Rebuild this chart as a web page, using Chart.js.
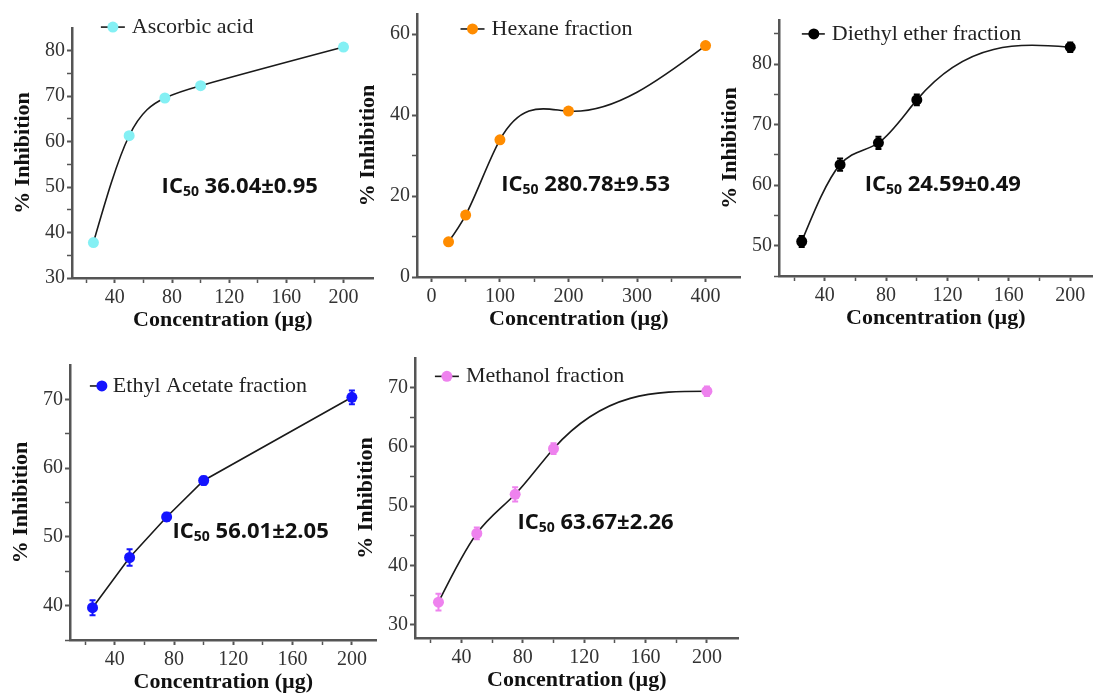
<!DOCTYPE html>
<html>
<head>
<meta charset="utf-8">
<script src="https://cdn.jsdelivr.net/npm/chart.js@4.4.0/dist/chart.umd.min.js"></script>
<style>
  html, body { margin: 0; padding: 0; background: #fff; }
  body { position: relative; width: 1094px; height: 700px; overflow: hidden; }
  canvas { position: absolute; }
</style>
</head>
<body>
<canvas id="chart-ascorbic"></canvas>
<canvas id="chart-hexane"></canvas>
<canvas id="chart-diethyl"></canvas>
<canvas id="chart-ethyl"></canvas>
<canvas id="chart-methanol"></canvas>
<script>
// Concentrations (µg)
const concStd = [25, 50, 75, 100, 200];
const concHexane = [25, 50, 100, 200, 400];

// % inhibition per fraction
const inhAscorbic = [37.8, 61.3, 69.6, 72.3, 80.8];
const inhHexane = [8.7, 15.3, 33.9, 41.0, 57.2];
const inhDiethyl = [50.7, 63.4, 67.0, 74.1, 82.8];
const inhEthyl = [39.7, 47.0, 52.9, 58.2, 70.3];
const inhMethanol = [33.8, 45.4, 52.0, 59.7, 69.4];

// error bars (±)
const errDiethyl = [0.9, 1.0, 1.0, 0.9, 0.8];
const errEthyl = [1.1, 1.2, 0.6, 0.6, 1.0];
const errMethanol = [1.4, 1.0, 1.2, 0.9, 0.8];

// IC50 values
const ic50Ascorbic = '36.04±0.95';
const ic50Hexane = '280.78±9.53';
const ic50Diethyl = '24.59±0.49';
const ic50Ethyl = '56.01±2.05';
const ic50Methanol = '63.67±2.26';

// major tick labels
const ticksConc200 = [40, 80, 120, 160, 200];
const ticksConc400 = [0, 100, 200, 300, 400];
const ticksAscorbic = [30, 40, 50, 60, 70, 80];
const ticksHexane = [0, 20, 40, 60];
const ticksDiethyl = [50, 60, 70, 80];
const ticksEthyl = [40, 50, 60, 70];
const ticksMethanol = [30, 40, 50, 60, 70];

const SERIF = "'Liberation Serif', 'Times New Roman', serif";
const SANS = "'Open Sans', 'Noto Sans', sans-serif";
const Y_W = 64;   // width reserved for y ticks + title
const X_H = 58;   // height reserved for x ticks + title
const PAD_T = 16;
const PAD_R = 4;

// major ticks plus one minor tick halfway between them
function withMinor(majors, min, max) {
  const step = (majors[1] - majors[0]) / 2;
  const out = [];
  let v = majors[0] - step * Math.floor((majors[0] - min) / step);
  for (; v <= max - step * 0.3; v += step) out.push(v);
  return out;
}

// natural cubic spline through the drawn points -> bezier control points
function splineControlPoints(pts) {
  const n = pts.length;
  const h = [], d = [];
  for (let i = 0; i < n - 1; i++) {
    h[i] = pts[i + 1].x - pts[i].x;
    d[i] = (pts[i + 1].y - pts[i].y) / h[i];
  }
  const M = new Array(n).fill(0);
  const b = [], r = [];
  for (let i = 1; i < n - 1; i++) {
    b[i] = 2 * (h[i - 1] + h[i]);
    r[i] = 6 * (d[i] - d[i - 1]);
  }
  for (let i = 2; i < n - 1; i++) {
    const w = h[i - 1] / b[i - 1];
    b[i] -= w * h[i - 1];
    r[i] -= w * r[i - 1];
  }
  for (let i = n - 2; i >= 1; i--) {
    M[i] = (r[i] - (i < n - 2 ? h[i] * M[i + 1] : 0)) / b[i];
  }
  for (let i = 0; i < n - 1; i++) {
    const s0 = d[i] - h[i] * (2 * M[i] + M[i + 1]) / 6;
    const s1 = d[i] + h[i] * (M[i] + 2 * M[i + 1]) / 6;
    pts[i].cp2x = pts[i].x + h[i] / 3;
    pts[i].cp2y = pts[i].y + s0 * h[i] / 3;
    pts[i + 1].cp1x = pts[i + 1].x - h[i] / 3;
    pts[i + 1].cp1y = pts[i + 1].y - s1 * h[i] / 3;
  }
  pts[0].cp1x = pts[0].x; pts[0].cp1y = pts[0].y;
  pts[n - 1].cp2x = pts[n - 1].x; pts[n - 1].cp2y = pts[n - 1].y;
}

// spline curve, error bars, in-plot legend and IC50 note
const panelDecor = {
  id: 'panelDecor',
  beforeDatasetsDraw(chart, args, opts) {
    if (!opts.smooth) return;
    const meta = chart.getDatasetMeta(0);
    splineControlPoints(meta.data);
    meta.dataset._pointsUpdated = true;
  },
  afterDatasetsDraw(chart, args, opts) {
    const { ctx, scales: { y } } = chart;
    if (!opts.errors) return;
    const ds = chart.data.datasets[0];
    const meta = chart.getDatasetMeta(0);
    ctx.save();
    ctx.strokeStyle = opts.color;
    ctx.lineWidth = 2;
    meta.data.forEach((pt, i) => {
      const e = opts.errors[i];
      const v = ds.data[i].y;
      const y0 = y.getPixelForValue(v - e);
      const y1 = y.getPixelForValue(v + e);
      ctx.beginPath();
      ctx.moveTo(pt.x, y0); ctx.lineTo(pt.x, y1);
      ctx.moveTo(pt.x - 3, y0); ctx.lineTo(pt.x + 3, y0);
      ctx.moveTo(pt.x - 3, y1); ctx.lineTo(pt.x + 3, y1);
      ctx.stroke();
    });
    ctx.restore();
  },
  afterDraw(chart, args, opts) {
    const { ctx, scales: { x, y } } = chart;
    ctx.save();
    // legend: line with marker, then name
    const lx = x.getPixelForValue(opts.legendAt[0]);
    const ly = y.getPixelForValue(opts.legendAt[1]);
    ctx.strokeStyle = '#1a1a1a';
    ctx.lineWidth = 1.6;
    ctx.beginPath();
    ctx.moveTo(lx - 12, ly);
    ctx.lineTo(lx + opts.legendGap - 7, ly);
    ctx.stroke();
    ctx.fillStyle = opts.color;
    ctx.beginPath();
    ctx.arc(lx, ly, 5.5, 0, Math.PI * 2);
    ctx.fill();
    ctx.fillStyle = '#222';
    ctx.font = `22px ${SERIF}`;
    ctx.textAlign = 'left';
    ctx.textBaseline = 'middle';
    ctx.fillText(opts.legend, lx + opts.legendGap, ly);

    // IC50 annotation
    let tx = x.getPixelForValue(opts.ic50At[0]);
    const ty = y.getPixelForValue(opts.ic50At[1]);
    ctx.fillStyle = '#111';
    ctx.font = `bold 22px ${SANS}`;
    ctx.fillText('IC', tx, ty);
    tx += ctx.measureText('IC').width;
    ctx.font = `bold 14px ${SANS}`;
    ctx.fillText('50', tx, ty + 5);
    tx += ctx.measureText('50').width;
    ctx.font = `bold 22px ${SANS}`;
    ctx.fillText(' ' + opts.ic50, tx, ty);
    ctx.restore();
  },
};

function axisOpts(majors, min, max, title, isX) {
  const list = withMinor(majors, min, max);
  return {
    type: 'linear',
    min, max,
    afterBuildTicks: (axis) => { axis.ticks = list.map((v) => ({ value: v })); },
    afterFit: (axis) => { if (isX) axis.height = X_H; else axis.width = Y_W; },
    border: { display: true, color: '#555', width: 2.5 },
    grid: {
      display: true,
      drawOnChartArea: false,
      drawTicks: true,
      tickLength: 5,
      tickColor: '#555',
      tickWidth: (c) => (majors.includes(c.tick && c.tick.value) ? 2 : 1.5),
    },
    ticks: {
      autoSkip: false,
      maxRotation: 0,
      padding: isX ? 3 : 2,
      color: '#333',
      font: { family: SERIF, size: 20 },
      callback: (v) => (majors.includes(v) ? String(v) : ''),
    },
    title: {
      display: true,
      text: title,
      color: '#111',
      font: { family: SERIF, size: 22, weight: 'bold' },
      padding: isX ? { top: 0, bottom: 2 } : { top: 2, bottom: 0 },
    },
  };
}

function makePanel(p) {
  const [L, T, R, B] = p.area;
  const canvas = document.getElementById(p.id);
  const left = L - Y_W, top = T - PAD_T;
  canvas.width = R + PAD_R - left;
  canvas.height = B + X_H - top;
  canvas.style.left = left + 'px';
  canvas.style.top = top + 'px';

  return new Chart(canvas.getContext('2d'), {
    type: 'scatter',
    data: {
      datasets: [{
        data: p.xs.map((v, i) => ({ x: v, y: p.ys[i] })),
        showLine: true,
        borderColor: '#1a1a1a',
        borderWidth: 1.6,
        tension: p.smooth ? 0.4 : 0,
        pointRadius: 5.5,
        pointBackgroundColor: p.color,
        pointBorderColor: p.color,
        pointBorderWidth: 0,
        clip: false,
      }],
    },
    options: {
      responsive: false,
      devicePixelRatio: 1,
      animation: false,
      layout: { padding: { top: PAD_T, right: PAD_R, left: 0, bottom: 0 } },
      plugins: {
        legend: { display: false },
        tooltip: { enabled: false },
        panelDecor: {
          smooth: p.smooth,
          color: p.color,
          errors: p.errors,
          legend: p.legend,
          legendAt: p.legendAt,
          legendGap: p.legendGap,
          ic50: p.ic50,
          ic50At: p.ic50At,
        },
      },
      scales: {
        x: axisOpts(p.xTicks, p.xRange[0], p.xRange[1], 'Concentration (µg)', true),
        y: axisOpts(p.yTicks, p.yRange[0], p.yRange[1], '% Inhibition', false),
      },
    },
    plugins: [panelDecor],
  });
}

const panels = [
  {
    id: 'chart-ascorbic', area: [72, 28, 375, 278],
    xRange: [10, 221], yRange: [30, 85], xTicks: ticksConc200, yTicks: ticksAscorbic,
    xs: concStd, ys: inhAscorbic, errors: null, color: '#84F0F4', smooth: true,
    legend: 'Ascorbic acid', legendAt: [38.6, 85.2], legendGap: 19,
    ic50: ic50Ascorbic, ic50At: [72.7, 50.0],
  },
  {
    id: 'chart-hexane', area: [417, 14, 742, 277],
    xRange: [-21, 451], yRange: [0, 65], xTicks: ticksConc400, yTicks: ticksHexane,
    xs: concHexane, ys: inhHexane, errors: null, color: '#FF8C00', smooth: true,
    legend: 'Hexane fraction', legendAt: [60, 61.3], legendGap: 19,
    ic50: ic50Hexane, ic50At: [102, 22.7],
  },
  {
    id: 'chart-diethyl', area: [779, 20, 1094, 276],
    xRange: [10.2, 214.5], yRange: [45, 87.3], xTicks: ticksConc200, yTicks: ticksDiethyl,
    xs: concStd, ys: inhDiethyl, errors: errDiethyl, color: '#000000', smooth: true,
    legend: 'Diethyl ether fraction', legendAt: [32.9, 85], legendGap: 18,
    ic50: ic50Diethyl, ic50At: [66, 60.1],
  },
  {
    id: 'chart-ethyl', area: [70, 365, 378, 640],
    xRange: [9.8, 216.6], yRange: [35, 75], xTicks: ticksConc200, yTicks: ticksEthyl,
    xs: concStd, ys: inhEthyl, errors: errEthyl, color: '#1414FF', smooth: false,
    legend: 'Ethyl Acetate fraction', legendAt: [31.3, 71.95], legendGap: 11,
    ic50: ic50Ethyl, ic50At: [79, 50.7],
  },
  {
    id: 'chart-methanol', area: [415, 358, 740, 638],
    xRange: [9.7, 220.6], yRange: [27.75, 75], xTicks: ticksConc200, yTicks: ticksMethanol,
    xs: concStd, ys: inhMethanol, errors: errMethanol, color: '#EE82EE', smooth: true,
    legend: 'Methanol fraction', legendAt: [30.5, 71.9], legendGap: 19,
    ic50: ic50Methanol, ic50At: [76.5, 47.2],
  },
];

panels.forEach(makePanel);
</script>
</body>
</html>
